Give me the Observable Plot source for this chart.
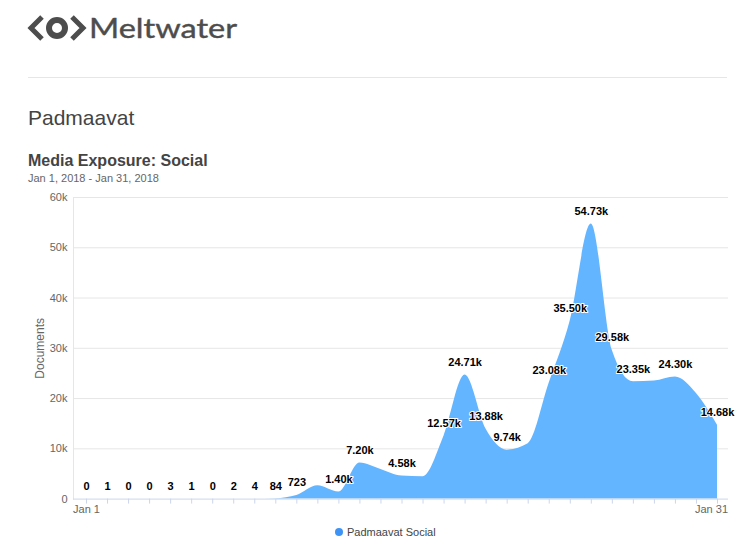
<!DOCTYPE html>
<html><head><meta charset="utf-8">
<script src="https://cdn.jsdelivr.net/npm/d3@7"></script>
<script src="https://cdn.jsdelivr.net/npm/@observablehq/plot@0.6"></script>
<style>
body{margin:0;background:#fff;font-family:"Liberation Sans",Arial,Helvetica,sans-serif;}
#page{position:relative;width:747px;height:545px;overflow:hidden;background:#fff;}
.abs{position:absolute;white-space:nowrap;line-height:1;}
</style></head><body><div id="page">
<svg class="abs" style="left:0;top:0" width="260" height="60">
 <g fill="none" stroke="#4d4d4d" stroke-width="5" stroke-linejoin="miter">
  <polyline points="42,17 31,28 42,39"/>
  <circle cx="57" cy="28" r="8" stroke-width="6"/>
  <polyline points="72,17 83,28 72,39"/>
 </g>
 <text x="89" y="38" font-family="Lato" font-size="27" fill="#4d4d4d" stroke="#4d4d4d" stroke-width="0.4" textLength="148" lengthAdjust="spacingAndGlyphs">Meltwater</text>
</svg>
<div class="abs" style="left:28px;top:77px;width:699px;height:1px;background:#e6e6e6"></div>
<div class="abs" style="left:28px;top:107px;font-size:21px;color:#444">Padmaavat</div>
<div class="abs" style="left:28px;top:152.5px;font-size:16px;font-weight:bold;color:#444">Media Exposure: Social</div>
<div class="abs" style="left:28px;top:173px;font-size:11px;color:#666">Jan 1, 2018 - Jan 31, 2018</div>
<div class="abs" id="chart" style="left:0;top:187px"></div>
<div class="abs" style="left:335px;top:526.5px;font-size:11px;color:#444;display:flex;align-items:center">
  <span style="display:inline-block;width:8px;height:8px;border-radius:50%;background:#3d94f6;margin-right:4px"></span><span>Padmaavat Social</span>
</div>
</div>
<script>
const days = [1,2,3,4,5,6,7,8,9,10,11,12,13,14,15,16,17,18,19,20,21,22,23,24,25,26,27,28,29,30,31];
const values = [0,1,0,0,3,1,0,2,4,84,723,2650,1400,7200,5900,4580,4450,12570,24710,13880,9740,11000,23080,35500,54730,29580,23350,23500,24300,21000,14680];
const hiddenLabelDays = [12,15,17,22,28,30];
const xTickLabels = [{day:1,label:"Jan 1"},{day:31,label:"Jan 31"}];
const yTicks = [0,10000,20000,30000,40000,50000,60000];
const seriesName = "Padmaavat Social";

const data = days.map((d,i)=>({day:d, value:values[i]}));
const fmt = v => v >= 1000 ? (v/1000).toFixed(2) + "k" : String(v);
const yFmt = v => v === 0 ? "0" : (v/1000) + "k";

const chart = Plot.plot({
  width: 747, height: 335,
  marginLeft: 73, marginRight: 19, marginTop: 10, marginBottom: 23.4,
  style: {fontFamily: "'Liberation Sans', Arial, sans-serif", fontSize: "11px", background: "transparent", overflow: "visible"},
  x: {domain: [1,31], insetLeft: 13, insetRight: 11},
  y: {domain: [0,60000]},
  marks: [
    Plot.ruleY(yTicks.filter(t => t > 0), {stroke: "#e6e6e6", strokeOpacity: 1}),
    Plot.frame({anchor: "left", stroke: "#e6e6e6", strokeOpacity: 1}),
    Plot.areaY(data, {x: "day", y: "value", curve: "monotone-x", fill: "#64b5ff", fillOpacity: 1}),
    Plot.ruleY([0], {stroke: "#ccd6eb", strokeOpacity: 1}),
    Plot.axisY({ticks: yTicks, tickFormat: yFmt, tickSize: 0, tickPadding: 6, fill: "#666", label: null}),
    Plot.axisX({ticks: days, tickFormat: () => "", tickSize: 5, stroke: "#ccd6eb", strokeOpacity: 1, label: null}),
    Plot.axisX({ticks: [xTickLabels[0].day], tickFormat: () => xTickLabels[0].label, tickSize: 0, tickPadding: 6, fill: "#666", label: null}),
    Plot.axisX({ticks: [xTickLabels[1].day], tickFormat: () => xTickLabels[1].label, tickSize: 0, tickPadding: 6, dx: -6, fill: "#666", label: null}),
    Plot.text(["Documents"], {frameAnchor: "left", rotate: -90, dx: -33, textAnchor: "middle", fill: "#666", fontSize: 12}),
    Plot.text(data.filter(d => !hiddenLabelDays.includes(d.day)), {
      x: "day", y: "value", text: d => fmt(d.value), dy: -12.5,
      fontWeight: "bold", fill: "#000", stroke: "#fff", strokeWidth: 2, fontSize: 11
    })
  ]
});
document.getElementById("chart").appendChild(chart);
</script>
</body></html>
